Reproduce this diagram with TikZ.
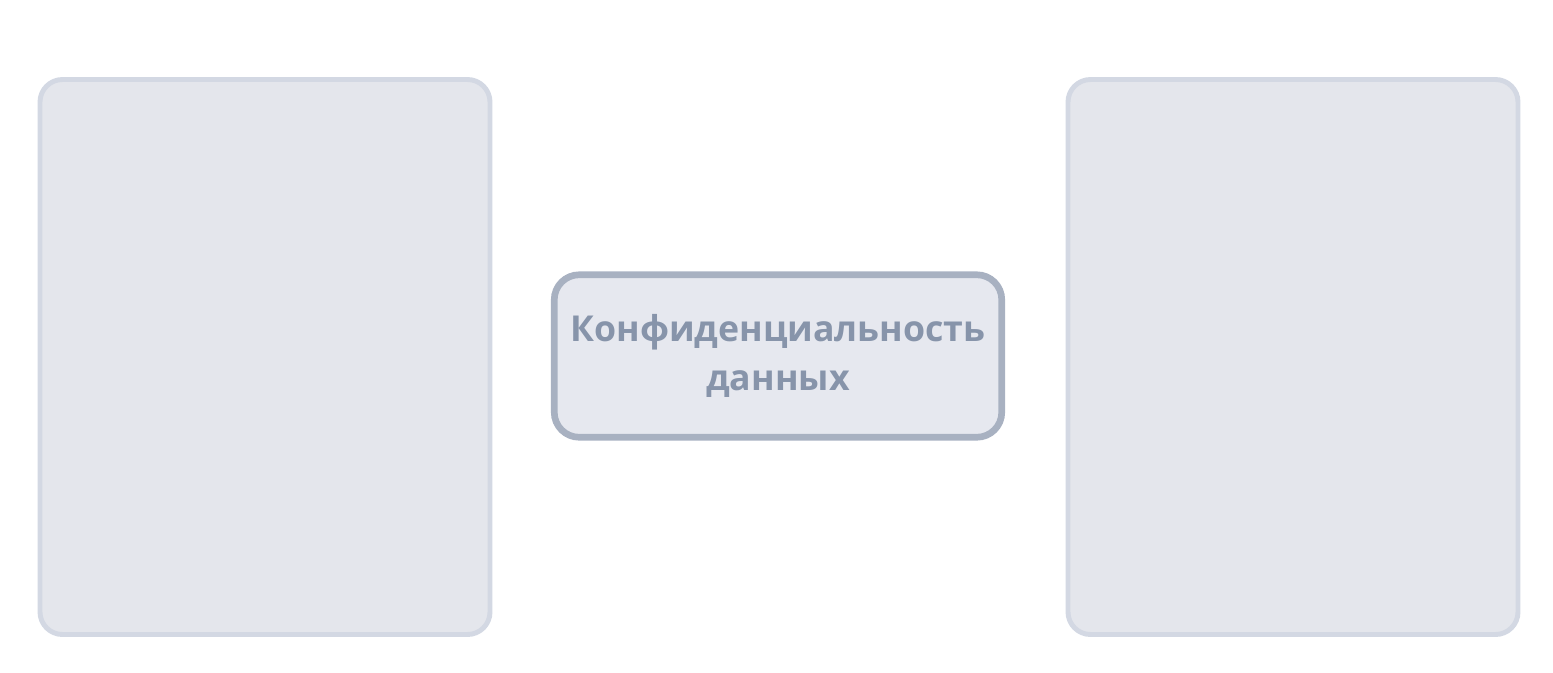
\documentclass[tikz,border=0pt]{standalone}
\usepackage{fontspec}
\setmainfont{Open Sans}
\usetikzlibrary{positioning}

\definecolor{panelfill}{HTML}{E4E6EC}
\definecolor{panelline}{HTML}{D3D8E3}
\definecolor{keyfill}{HTML}{E6E8EF}
\definecolor{keyline}{HTML}{A8B1C1}
\definecolor{keytext}{HTML}{8794AA}

\begin{document}
\begin{tikzpicture}[
        % Style for the two empty side panels
        panel/.style={draw=panelline, fill=panelfill, line width=2.8pt, rounded corners=0.45cm, minimum width=9.0cm, minimum height=11.1cm},
        % Style for the central box
        keybox/.style={draw=keyline, fill=keyfill, line width=3.8pt, rounded corners=0.5cm, minimum width=8.95cm, minimum height=3.25cm, inner sep=2pt, align=center, text=keytext, font=\bfseries\fontsize{20.3}{27.5}\selectfont}
    ]
    \useasboundingbox (0,0) rectangle (31.06,-13.44);

    % Side panels
    \node[panel] at (5.3, -7.14) (leftpanel) {};
    \node[panel] at (25.86, -7.14) (rightpanel) {};

    % Central box
    \node[keybox] at (15.56, -7.12) (privacy) {Конфиденциальность\\данных};
\end{tikzpicture}
\end{document}
